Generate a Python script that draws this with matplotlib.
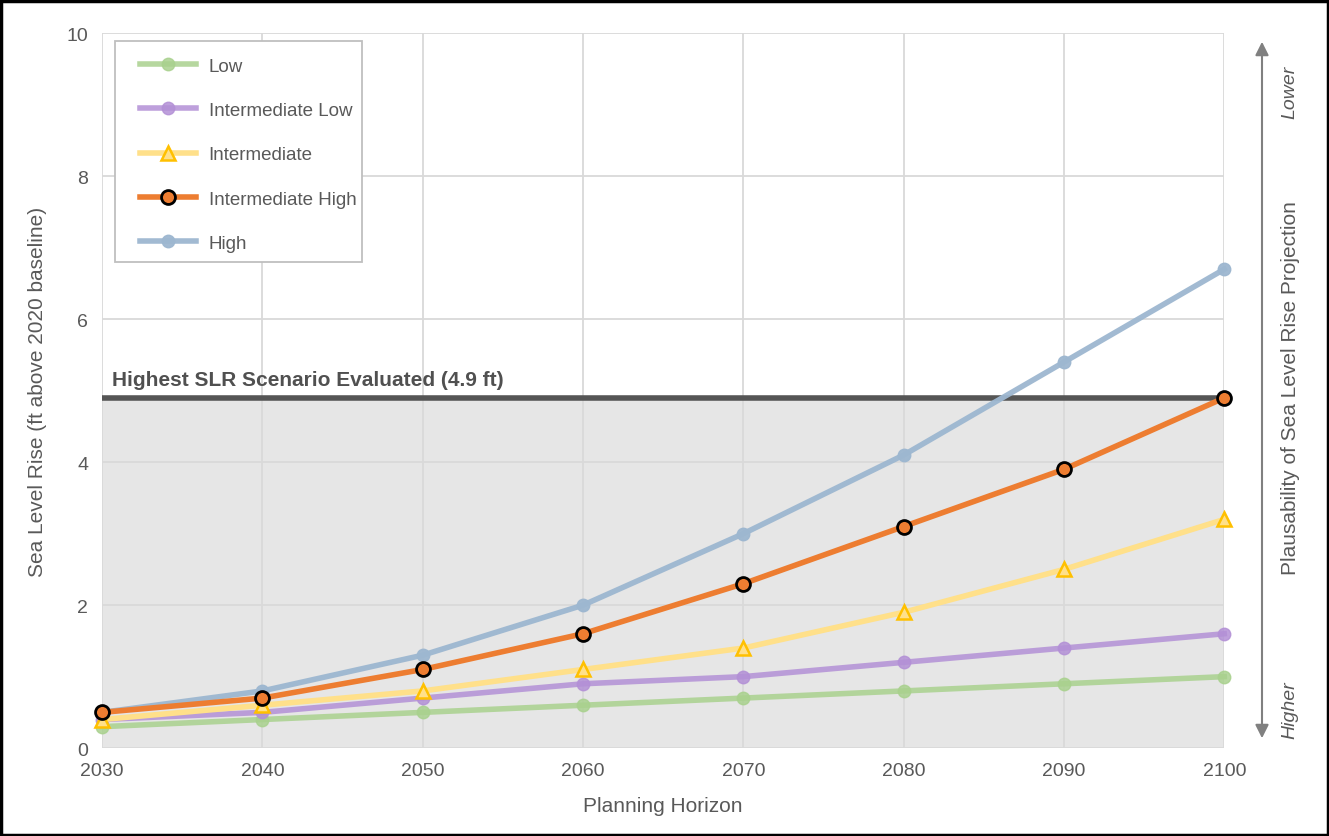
import matplotlib
matplotlib.use("Agg")
import matplotlib.pyplot as plt
from matplotlib.patches import Rectangle, FancyArrowPatch

plt.rcParams["font.family"] = ["Liberation Sans Narrow", "Liberation Sans", "DejaVu Sans"]

years = [2030, 2040, 2050, 2060, 2070, 2080, 2090, 2100]
low = [0.3, 0.4, 0.5, 0.6, 0.7, 0.8, 0.9, 1.0]
int_low = [0.4, 0.5, 0.7, 0.9, 1.0, 1.2, 1.4, 1.6]
intermediate = [0.4, 0.6, 0.8, 1.1, 1.4, 1.9, 2.5, 3.2]
int_high = [0.5, 0.7, 1.1, 1.6, 2.3, 3.1, 3.9, 4.9]
high = [0.5, 0.8, 1.3, 2.0, 3.0, 4.1, 5.4, 6.7]
highest_evaluated = 4.9

fig = plt.figure(figsize=(13.29, 8.37), dpi=100)
ax = fig.add_axes([0.0768, 0.105, 0.8444, 0.854])

text_col = "#595959"
ax.axhspan(0, highest_evaluated, color="#e6e6e6", zorder=0)
ax.axhline(highest_evaluated, color="#555555", lw=4, zorder=1)
ax.text(2030.6, highest_evaluated + 0.12, "Highest SLR Scenario Evaluated (4.9 ft)",
        fontsize=15, fontweight="bold", color="#505050", va="bottom", ha="left")

common = dict(lw=4, clip_on=False)
ax.plot(years, low, color="#a9d18e", marker="o", ms=9, alpha=0.85,
        label="Low", zorder=3, **common)
ax.plot(years, int_low, color="#b390d6", marker="o", ms=9, alpha=0.85,
        label="Intermediate Low", zorder=3, **common)
ax.plot(years, intermediate, color="#ffe08a", marker="^", ms=10,
        mfc="#ffe08a", mec="#ffc000", mew=1.8, label="Intermediate", zorder=4, **common)
ax.plot(years, high, color="#9db7d0", marker="o", ms=9, alpha=0.95,
        label="High", zorder=4, **common)
ax.plot(years, int_high, color="#ed7d31", marker="o", ms=10,
        mfc="#ed7d31", mec="black", mew=2, label="Intermediate High", zorder=5, **common)

ax.set_xlim(2030, 2100)
ax.set_ylim(0, 10)
ax.set_xticks(years)
ax.set_yticks(range(0, 11, 2))
ax.grid(True, color="#d9d9d9", lw=1.3, zorder=0.5)
ax.set_axisbelow(True)
for s in ax.spines.values():
    s.set_visible(False)
ax.tick_params(length=0, labelsize=14, colors=text_col, pad=10)
ax.set_xlabel("Planning Horizon", fontsize=15, color=text_col, labelpad=12)
ax.set_ylabel("Sea Level Rise (ft above 2020 baseline)", fontsize=15,
              color=text_col, labelpad=14)

# legend box drawn separately so the padding around the entries can be set freely
ax.add_patch(Rectangle((0.0116, 0.680), 0.2201, 0.309, transform=ax.transAxes,
                       facecolor="white", edgecolor="#bfbfbf", lw=1.3, zorder=6))
handles, labels = ax.get_legend_handles_labels()
order = [labels.index(n) for n in ["Low", "Intermediate Low", "Intermediate",
                                   "Intermediate High", "High"]]
leg = ax.legend([handles[i] for i in order], [labels[i] for i in order],
                loc="upper left", bbox_to_anchor=(0.0339, 0.966), borderaxespad=0,
                borderpad=0, fontsize=13.5, frameon=False,
                labelspacing=1.45, handlelength=3.0, handletextpad=0.65,
                labelcolor=text_col)
leg.set_zorder(7)

# plausibility arrow on the right
fig.patches.append(FancyArrowPatch(
    (1262 / 1329, 1 - 742 / 837), (1262 / 1329, 1 - 40 / 837),
    transform=fig.transFigure, arrowstyle="<|-|>", mutation_scale=20,
    color="#808080", lw=1.5))
fig.text(1290 / 1329, 1 - 92 / 837, "Lower", rotation=90, style="italic",
         fontsize=14, color=text_col, ha="center", va="center")
fig.text(1290 / 1329, 1 - 710 / 837, "Higher", rotation=90, style="italic",
         fontsize=14, color=text_col, ha="center", va="center")
fig.text(1290 / 1329, 1 - 388 / 837, "Plausability of Sea Level Rise Projection",
         rotation=90, fontsize=15, color=text_col, ha="center", va="center")

fig.patches.append(Rectangle((0.001, 0.001), 0.998, 0.997, transform=fig.transFigure,
                             fill=False, edgecolor="black", lw=2.5))

fig.savefig("out.png", dpi=100)
